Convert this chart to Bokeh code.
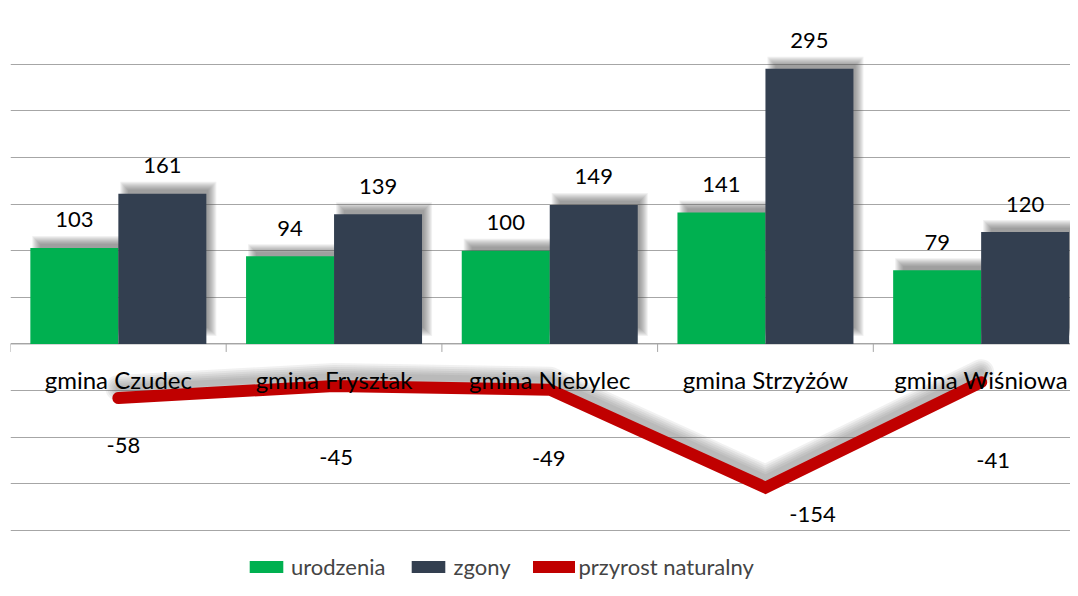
from bokeh.plotting import figure
from bokeh.models import Range1d, FixedTicker, Legend, LegendItem
from bokeh.core.properties import value
from bokeh.embed import file_html
from bokeh.resources import INLINE

# ---- data ----
categories = ["gmina Czudec", "gmina Frysztak", "gmina Niebylec", "gmina Strzyżów", "gmina Wiśniowa"]
urodzenia = [103, 94, 100, 141, 79]
zgony = [161, 139, 149, 295, 120]
przyrost = [-58, -45, -49, -154, -41]
grid_ticks = [-200, -150, -100, -50, 0, 50, 100, 150, 200, 250, 300, 350]

# label offsets (pixels) for the net-growth labels, as in the original
lab_dx = [5, 2, -1, 47, 12]
lab_dy = [47, 72, 69, 27, 78]

GREEN = "#00B050"
NAVY = "#333F50"
RED = "#C00000"
FONT = "Lato"

W, H = 1070, 580
BL, BR, BT, BB = 10, 0, 17, 0
FW, FH = W - BL - BR, H - BT - BB
CAT_PX = 215.7
XMAX = FW / CAT_PX
YU = 550.0 / 513.0
YMAX = 350
YMIN = YMAX - FH * YU
XU = 1.0 / CAT_PX

p = figure(width=W, height=H, output_backend="svg", toolbar_location=None,
           x_range=Range1d(0, XMAX), y_range=Range1d(YMIN, YMAX),
           min_border_left=BL, min_border_right=BR, min_border_top=BT, min_border_bottom=BB)
p.outline_line_color = None
p.xaxis.visible = False
p.yaxis.visible = False
p.xgrid.visible = False
p.ygrid.ticker = FixedTicker(ticks=grid_ticks)
p.ygrid.grid_line_color = "#a6a6a6"
p.ygrid.grid_line_width = 1

n = len(categories)
xc = [i + 0.5 for i in range(n)]
bw = 88 * XU
xg = [x - bw / 2 for x in xc]
xn = [x + bw / 2 for x in xc]

# category axis line and boundary ticks
p.segment(x0=[0], y0=[0], x1=[XMAX], y1=[0], line_color="#a6a6a6", line_width=1)
p.segment(x0=list(range(n)), y0=[0] * n, x1=list(range(n)), y1=[-8 * YU] * n,
          line_color="#a6a6a6", line_width=1)

def shadows(xs, vals):
    for g in range(-4, 5):
        p.quad(left=[x - bw / 2 + (6 - g) * XU for x in xs],
               right=[x + bw / 2 + (6 + g) * XU for x in xs],
               top=[v + (8 + g) * YU for v in vals],
               bottom=[(12 - g) * YU for v in vals],
               fill_color="#4a4a4a", fill_alpha=0.08, line_color=None)

shadows(xg, urodzenia)
r_g = p.vbar(x=xg, top=urodzenia, width=bw, bottom=0, fill_color=GREEN, line_color=None)
shadows(xn, zgony)
r_n = p.vbar(x=xn, top=zgony, width=bw, bottom=0, fill_color=NAVY, line_color=None)

# line shadow
for w in [26, 22, 18, 14, 10, 6]:
    p.line(x=xc, y=[v + 10 * YU for v in przyrost], line_color="#666666", line_alpha=0.09,
           line_width=w, line_join="round", line_cap="round")
r_l = p.line(x=xc, y=przyrost, line_color=RED, line_width=12, line_join="miter", line_cap="round")

# value labels
p.text(x=xg, y=urodzenia, text=[str(v) for v in urodzenia], text_align="center",
       text_baseline="alphabetic", y_offset=-28, text_font=value(FONT),
       text_font_size="22px", text_color="black")
p.text(x=xn, y=zgony, text=[str(v) for v in zgony], text_align="center",
       text_baseline="alphabetic", y_offset=-28, text_font=value(FONT),
       text_font_size="22px", text_color="black")
p.text(x=xc, y=przyrost, text=[str(v) for v in przyrost], text_align="center",
       text_baseline="alphabetic", x_offset=lab_dx, y_offset=lab_dy, text_font=value(FONT),
       text_font_size="22px", text_color="black")

# category labels
p.text(x=xc, y=[0] * n, text=categories, text_align="center", text_baseline="alphabetic",
       y_offset=36, text_font=value(FONT), text_font_size="24px", text_color="black")

legend = Legend(items=[LegendItem(label="urodzenia", renderers=[r_g]),
                       LegendItem(label="zgony", renderers=[r_n]),
                       LegendItem(label="przyrost naturalny", renderers=[r_l])],
                orientation="horizontal", location=(235, 0),
                glyph_width=42, glyph_height=15, label_standoff=4, spacing=22,
                padding=0, margin=0, border_line_alpha=0, background_fill_alpha=0,
                label_text_font=FONT, label_text_font_size="22px", label_height=15,
                label_text_baseline="middle")
p.add_layout(legend, "center")

open("out.html", "w").write(file_html(p, INLINE))
